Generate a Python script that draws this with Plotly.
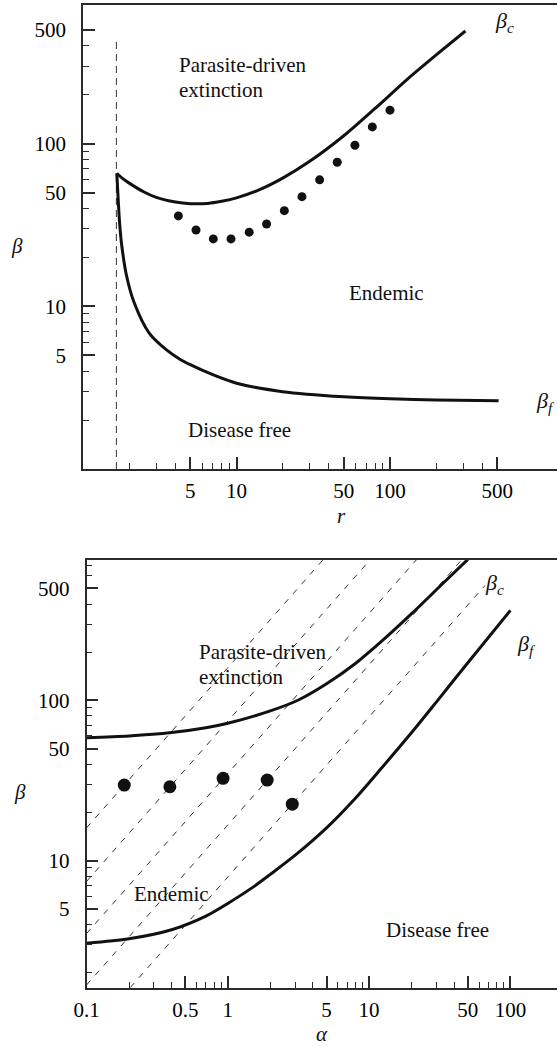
import numpy as np
import plotly.graph_objects as go

FONT = "Liberation Serif"
INK = "#111111"
AXC = "#2a2a2a"

# ---------------- Top panel: beta versus r ----------------
r_bc = [1.66, 1.8, 2.0, 2.5, 3.0, 4.0, 5.0, 6.5, 8.0, 10, 14, 20, 30, 50, 80, 130, 200, 310]
beta_c_r = [65.9, 61.5, 57.3, 50.5, 46.8, 43.8, 42.8, 43.0, 44.3, 46.5, 52, 61.5, 78, 112, 165, 250, 352, 494]

r_bf = [1.66, 1.69, 1.73, 1.79, 1.92, 2.15, 2.7, 3.5, 4.3, 5.0, 7.0, 10, 20, 50, 100, 200, 510]
beta_f_r = [65.9, 48, 33, 23.5, 15.5, 10.6, 6.85, 5.4, 4.72, 4.38, 3.8, 3.37, 2.99, 2.78, 2.70, 2.66, 2.63]

r_dots = [4.18, 5.45, 7.06, 9.21, 12.1, 15.7, 20.5, 26.7, 34.8, 45.3, 59.1, 76.7, 100]
beta_dots_r = [36.0, 29.5, 26.0, 26.0, 28.6, 32.1, 38.8, 47.3, 60, 77, 98, 127, 161]

r_threshold = [1.65, 1.65]
r_threshold_beta = [1.0, 445]

top_x_ticks = [5, 10, 50, 100, 500]
top_x_minor = [2, 3, 4, 6, 7, 8, 9, 20, 30, 40, 60, 70, 80, 90, 200, 300, 400]
top_y_ticks = [5, 10, 50, 100, 500]
top_y_minor = [2, 3, 4, 6, 7, 8, 9, 20, 30, 40, 60, 70, 80, 90, 200, 300, 400]

# ---------------- Bottom panel: beta versus alpha ----------------
a_bc = [0.1, 0.2, 0.4, 0.7, 1.0, 2.0, 3.16, 5.0, 8.0, 12, 20, 32, 50]
beta_c_a = [58.5, 60, 63, 67.5, 72, 86, 100.6, 127, 170, 230, 348, 520, 760]

a_bf = [0.1, 0.2, 0.4, 0.7, 1.0, 1.5, 2.0, 3.0, 5.0, 8.0, 12, 20, 30, 50, 100]
beta_f_a = [3.05, 3.25, 3.7, 4.5, 5.4, 6.8, 8.2, 10.8, 16.0, 24.5, 37, 63, 98, 172, 365]

a_dots = [0.185, 0.389, 0.926, 1.90, 2.86]
beta_dots_a = [29.6, 28.9, 32.6, 31.8, 22.5]

# dashed guide lines: start and end points (alpha, beta)
guide_a0 = [0.1, 0.1, 0.1, 0.1, 0.204]
guide_b0 = [16.0, 7.4, 3.5, 1.67, 1.61]
guide_a1 = [4.74, 10.2, 21.7, 45.4, 66]
guide_b1 = [758, 758, 758, 758, 521]

bot_x_ticks = [0.1, 0.5, 1, 5, 10, 50, 100]
bot_x_text = ["0.1", "0.5", "1", "5", "10", "50", "100"]
bot_x_minor = [0.2, 0.3, 0.4, 0.6, 0.7, 0.8, 0.9, 2, 3, 4, 6, 7, 8, 9, 20, 30, 40, 60, 70, 80, 90]
bot_y_ticks = [5, 10, 50, 100, 500]
bot_y_minor = [2, 3, 4, 6, 7, 8, 9, 20, 30, 40, 60, 70, 80, 90, 200, 300, 400, 600, 700]

fig = go.Figure()

fig.add_trace(go.Scatter(x=r_threshold, y=r_threshold_beta, mode="lines",
                         line=dict(color="#333333", width=1, dash="7px,5px"),
                         xaxis="x", yaxis="y", hoverinfo="skip"))
fig.add_trace(go.Scatter(x=r_bc, y=beta_c_r, mode="lines",
                         line=dict(color=INK, width=3, shape="spline", smoothing=0.8),
                         xaxis="x", yaxis="y"))
fig.add_trace(go.Scatter(x=r_bf, y=beta_f_r, mode="lines",
                         line=dict(color=INK, width=3, shape="spline", smoothing=0.8),
                         xaxis="x", yaxis="y"))
fig.add_trace(go.Scatter(x=r_dots, y=beta_dots_r, mode="markers",
                         marker=dict(color=INK, size=9),
                         xaxis="x", yaxis="y"))

for a0, b0, a1, b1 in zip(guide_a0, guide_b0, guide_a1, guide_b1):
    fig.add_trace(go.Scatter(x=[a0, a1], y=[b0, b1], mode="lines",
                             line=dict(color="#333333", width=1, dash="6px,7px"),
                             xaxis="x2", yaxis="y2", hoverinfo="skip"))
fig.add_trace(go.Scatter(x=a_bc, y=beta_c_a, mode="lines",
                         line=dict(color=INK, width=3, shape="spline", smoothing=0.8),
                         xaxis="x2", yaxis="y2"))
fig.add_trace(go.Scatter(x=a_bf, y=beta_f_a, mode="lines",
                         line=dict(color=INK, width=3, shape="spline", smoothing=0.8),
                         xaxis="x2", yaxis="y2"))
fig.add_trace(go.Scatter(x=a_dots, y=beta_dots_a, mode="markers",
                         marker=dict(color=INK, size=13),
                         xaxis="x2", yaxis="y2"))

W, H = 557, 1046


def axis(domain, rng, tickvals, ticktext, minor, anchor, is_x):
    d = dict(type="log", domain=domain, range=rng, anchor=anchor, automargin=False,
             showline=True, linecolor=AXC, linewidth=1.6,
             mirror=is_x, ticks="inside", ticklen=12, tickwidth=1.5, tickcolor=AXC,
             tickmode="array", tickvals=tickvals, ticktext=ticktext,
             minor=dict(tickmode="array", tickvals=minor, ticks="inside", ticklen=6,
                        tickwidth=1.3, tickcolor=AXC, showgrid=False),
             showgrid=False, zeroline=False,
             tickfont=dict(family=FONT, size=21, color="black"),
             ticklabelstandoff=2 if is_x else 11)
    return d


top_xdom = [83 / W, 1.0]
top_ydom = [1 - 469 / H, 1 - 5 / H]
bot_xdom = [86.5 / W, 1.0]
bot_ydom = [1 - 987.5 / H, 1 - 559.5 / H]

fig.update_layout(
    width=W, height=H,
    margin=dict(l=0, r=0, t=0, b=0, autoexpand=False),
    paper_bgcolor="white", plot_bgcolor="white",
    showlegend=False,
    font=dict(family=FONT, size=21, color=INK),
    xaxis=axis(top_xdom, [0, 3.088], top_x_ticks, [str(v) for v in top_x_ticks], top_x_minor, "y", True),
    yaxis=axis(top_ydom, [0, 2.8536], top_y_ticks, [str(v) for v in top_y_ticks], top_y_minor, "x", False),
    xaxis2=axis(bot_xdom, [-1.0, 2.3298], bot_x_ticks, bot_x_text, bot_x_minor, "y2", True),
    yaxis2=axis(bot_ydom, [0.2073, 2.880], bot_y_ticks, [str(v) for v in bot_y_ticks], bot_y_minor, "x2", False),
)

L = np.log10
ann = []


def add_text(text, x, y, xref, yref, xanchor="center", size=21):
    ann.append(dict(text=text, x=x, y=y, xref=xref, yref=yref, showarrow=False,
                    xanchor=xanchor, yanchor="middle",
                    font=dict(family=FONT, size=size, color=INK)))


# top panel region labels (data coordinates, log axes)
add_text("Parasite-driven", L(4.07), L(305), "x", "y", "left")
add_text("extinction", L(4.07), L(214), "x", "y", "left")
add_text("Endemic", L(95.5), L(12.1), "x", "y")
add_text("Disease free", L(10.5), L(1.74), "x", "y")
add_text("<i>β<sub>c</sub></i>", L(561), L(564), "x", "y", size=22)
add_text("<i>β<sub>f</sub></i>", L(1038), L(2.58), "x", "y", size=22)

# bottom panel region labels
add_text("Parasite-driven", L(0.607), L(201), "x2", "y2", "left")
add_text("extinction", L(0.607), L(140.6), "x2", "y2", "left")
add_text("Endemic", L(0.40), L(6.18), "x2", "y2")
add_text("Disease free", L(30.5), L(3.68), "x2", "y2")
add_text("<i>β<sub>c</sub></i>", L(76.6), L(533), "x2", "y2", size=22)
add_text("<i>β<sub>f</sub></i>", L(131), L(222), "x2", "y2", size=22)

# axis titles
add_text("<i>β</i>", 17 / W, 1 - 246 / H, "paper", "paper")
add_text("<i>r</i>", 341 / W, 1 - 516 / H, "paper", "paper")
add_text("<i>β</i>", 19.5 / W, 1 - 792 / H, "paper", "paper")
add_text("<i>α</i>", 321.5 / W, 1 - 1034 / H, "paper", "paper")

fig.update_layout(annotations=ann)

fig.write_html("out.html")
